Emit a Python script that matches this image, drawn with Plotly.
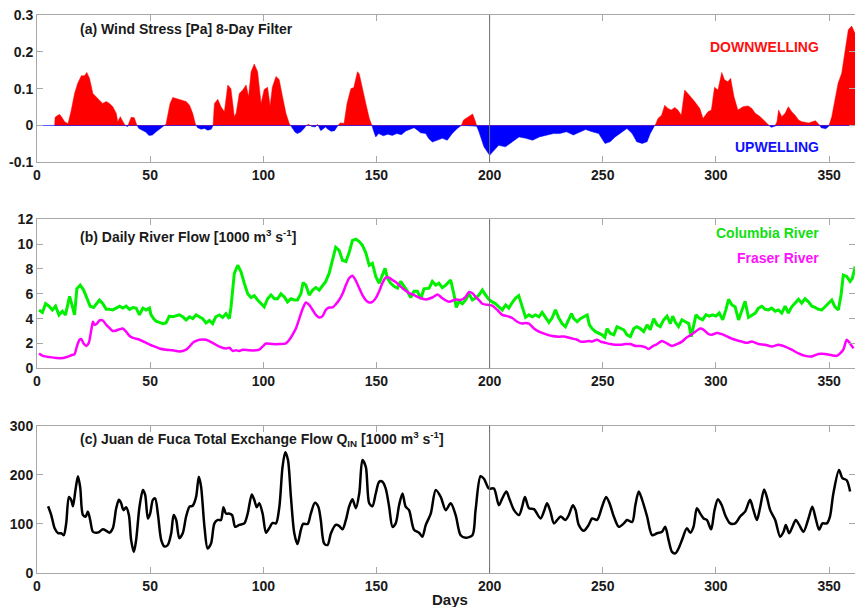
import plotly.graph_objects as go

# ---------------- data ----------------
wind_days = [7.8, 8.0, 9, 10, 11, 12.2, 13.7, 15, 16.6, 18, 19.6, 21, 22, 23.2, 24.7, 26.2, 27.6, 29, 30.6, 32,
             33.5, 35, 35.7, 36.8, 38, 39, 40, 41.6, 43, 44, 45, 46.5, 48, 49.5, 51, 52.5, 54, 55.5, 57, 58.8,
             60, 61.5, 63, 64.4, 65.9, 67.4, 68.8, 70, 71, 72.5, 74, 75.5, 77, 77.8, 78.4, 79.9, 81.3, 82.8, 84.3, 85.7,
             87.2, 88, 89.4, 90.9, 92.4, 93.5, 94.6, 96, 97.5, 99, 100.4, 101.9, 103, 104, 105.6, 107, 108.5, 110, 111.5, 112.6,
             114, 115, 116.5, 118, 119, 120, 121.5, 123, 124, 125.4, 126.5, 127.5, 128.5, 130, 131.5, 133, 134, 135.7, 137, 138.7,
             140, 141.6, 142.4, 143.8, 145.3, 146.8, 148, 149, 149.7, 151, 153, 155, 157, 159, 161, 163, 165, 166.6, 168, 169.5,
             171.8, 173, 174.7, 177, 179.1, 181.3, 183.5, 185.7, 187.5, 188.5, 191, 192.5, 193.5, 194.3, 195.3, 197.5, 200, 202, 204, 207,
             210, 213, 216, 219, 222, 225.3, 228.2, 231, 234, 237, 240, 242.4, 245.3, 248.2, 251, 253.3, 255.5, 258.5, 260.7, 263,
             265, 267.4, 269.6, 271, 272.5, 273.5, 274.4, 276, 277.4, 278.8, 280.3, 281.8, 283.2, 284.7, 286.2, 287.6, 289, 290.6, 292.9, 294.3,
             296.5, 298, 299.4, 300.9, 302.6, 303.8, 305.3, 306.5, 308, 309.7, 312, 314.3, 315.9, 317.4, 319.6, 321.8, 323.5, 324.5, 326, 327,
             327.7, 329.1, 330.6, 332, 333.5, 335, 336.5, 338, 341, 344, 345.5, 346.5, 348.5, 349.9, 351.2, 352.6, 354, 355.6, 357, 358.5,
             360, 361.5]
wind_stress = [0.0, 0.022, 0.027, 0.03, 0.022, 0.01, 0.005, 0.037, 0.087, 0.115, 0.135, 0.135, 0.144, 0.128, 0.087, 0.078, 0.07, 0.06, 0.065, 0.06,
               0.051, 0.033, 0.01, 0.024, 0.01, 0.0, -0.003, 0.022, 0.021, 0.003, -0.008, -0.012, -0.018, -0.027, -0.026, -0.018, -0.01, -0.003, 0.003, 0.06,
               0.076, 0.073, 0.071, 0.069, 0.065, 0.055, 0.033, 0.004, -0.006, -0.01, -0.008, -0.013, -0.01, 0.0, 0.06, 0.071, 0.051, 0.037, 0.11, 0.1,
               0.024, 0.033, 0.087, 0.096, 0.11, 0.078, 0.146, 0.167, 0.146, 0.06, 0.098, 0.104, 0.053, 0.104, 0.133, 0.125, 0.078, 0.033, 0.005, -0.005,
               -0.018, -0.022, -0.018, -0.008, 0.0, 0.003, -0.003, -0.004, 0.003, -0.014, -0.008, -0.004, -0.01, -0.016, -0.014, 0.0, 0.007, 0.006, 0.06, 0.1,
               0.103, 0.146, 0.14, 0.105, 0.06, 0.02, 0.0, -0.02, -0.031, -0.022, -0.028, -0.024, -0.027, -0.022, -0.025, -0.015, -0.01, -0.006, -0.012, -0.02,
               -0.022, -0.035, -0.045, -0.04, -0.035, -0.04, -0.022, -0.008, 0.0, 0.015, 0.025, 0.031, 0.015, -0.002, -0.017, -0.058, -0.081, -0.067, -0.054, -0.058,
               -0.044, -0.031, -0.035, -0.04, -0.031, -0.026, -0.022, -0.022, -0.017, -0.026, -0.017, -0.011, -0.017, -0.022, -0.049, -0.044, -0.031, -0.017, -0.008, -0.022,
               -0.044, -0.049, -0.044, -0.022, -0.004, 0.005, 0.019, 0.028, 0.055, 0.046, 0.042, 0.049, 0.042, 0.028, 0.096, 0.087, 0.078, 0.065, 0.046, 0.019,
               0.037, 0.042, 0.104, 0.096, 0.144, 0.124, 0.119, 0.128, 0.078, 0.042, 0.051, 0.053, 0.046, 0.033, 0.024, 0.01, 0.0, -0.005, -0.002, 0.01,
               0.042, 0.024, 0.033, 0.051, 0.037, 0.028, 0.015, 0.01, 0.007, 0.013, 0.005, -0.006, -0.009, -0.002, 0.024, 0.069, 0.115, 0.142, 0.205, 0.26,
               0.27, 0.25]

columbia_days = [0.9, 2.4, 3.8, 5.3, 6.8, 8.2, 9.7, 11.2, 12.6, 14.4, 15.6, 16.6, 17.6, 19.1, 20.6, 22, 23.5, 25, 26.2, 27.6,
                 29.1, 30.6, 32, 33.5, 35, 36.5, 38, 39.4, 40.9, 42.4, 43.8, 45.3, 46.8, 48.2, 49.7, 50.4, 51.5, 52.6, 54.1, 55.6,
                 57, 58.5, 60, 61.5, 62.9, 64.4, 65.9, 67.4, 68.8, 70.3, 71.8, 73.2, 74.7, 76.2, 77.6, 79, 80.6, 82, 83.5, 85,
                 85.7, 87.2, 88.7, 90.1, 91.6, 93.1, 94.6, 96, 97.5, 99, 100.4, 101.9, 103.4, 104.9, 106.3, 107.8, 109.3, 110.7, 112.2, 113.7,
                 115.1, 116.6, 117.6, 118.8, 120.3, 121.8, 123.2, 124.7, 126.2, 127.6, 129.1, 130.6, 132, 133.5, 135, 136.5, 137.9, 139.4, 140.9, 142.4,
                 143.8, 145.3, 146.8, 148.2, 149.7, 151.2, 152.6, 153.8, 154.9, 156.3, 157.8, 159.3, 160.7, 162.2, 163.7, 165.1, 166.6, 168.1, 169.6, 171,
                 172.5, 173.3, 174.7, 176.2, 177.6, 179.1, 180.6, 182.8, 184.3, 185.3, 186.5, 188, 189.4, 190.9, 192.4, 193.8, 195.3, 196.8, 198.2, 199.7,
                 201.2, 202.6, 204.1, 205.6, 207.1, 208.5, 210, 211.5, 212.9, 214.4, 215.9, 217.4, 218.8, 220.3, 221.8, 223.2, 224.7, 226.2, 227.6, 229.1,
                 230.6, 232, 233.5, 235, 236.2, 237.2, 238.7, 240.1, 241.6, 243.1, 244.1, 245.3, 246.8, 248.2, 249.7, 250.9, 251.9, 253.4, 254.9, 256.3,
                 257.8, 259.3, 260.7, 262.2, 263.7, 265.1, 266.6, 268.1, 269.6, 271, 272.5, 274, 275.4, 276.9, 278.4, 279.9, 280.9, 282.1, 283.5, 285,
                 286.5, 288, 289.1, 290.1, 291.2, 292.6, 294.1, 295.6, 297.1, 298.5, 300, 301.5, 303, 304.4, 305.6, 307.1, 308.5, 310, 311.5, 312.9,
                 314.4, 315.9, 317.4, 318.8, 320.3, 321.8, 323.2, 324.7, 326.2, 327.6, 329.1, 330.6, 332, 333.5, 335, 336.5, 337.9, 339.4, 340.9, 342.4,
                 343.8, 345.3, 346.8, 348.2, 349.7, 351.2, 352.6, 354.1, 355.3, 356.3, 357.8, 359.3, 360.3, 361.5]
columbia_flow = [4.7, 4.5, 5.2, 5.0, 4.7, 5.0, 4.3, 4.6, 4.3, 5.8, 5.0, 4.3, 6.4, 6.7, 6.3, 5.6, 5.0, 4.9, 5.2, 5.5,
                 5.2, 4.75, 4.75, 4.7, 4.85, 5.0, 4.85, 5.0, 4.75, 4.9, 4.85, 4.3, 4.85, 4.7, 4.85, 4.3, 4.0, 3.8, 3.7, 3.6,
                 3.65, 4.2, 4.15, 4.2, 4.3, 4.15, 3.9, 4.15, 4.0, 4.3, 4.15, 4.0, 3.65, 3.85, 3.6, 4.15, 4.3, 4.1, 4.4, 4.0,
                 4.9, 7.65, 8.3, 7.8, 6.85, 6.0, 5.7, 5.85, 5.5, 5.2, 4.95, 5.6, 5.9, 5.6, 5.6, 6.0, 5.75, 5.35, 5.6, 5.5,
                 5.5, 6.0, 6.9, 6.7, 5.9, 6.3, 6.5, 6.3, 6.7, 7.0, 7.65, 8.7, 9.75, 9.5, 8.7, 8.6, 9.3, 10.3, 10.4, 10.2,
                 9.9, 9.3, 8.3, 8.45, 7.4, 6.85, 7.5, 8.05, 7.25, 6.85, 6.6, 6.45, 7.0, 6.6, 6.2, 5.7, 6.2, 6.2, 5.6, 6.4,
                 6.4, 6.45, 7.0, 6.7, 6.85, 6.5, 6.7, 7.1, 5.9, 4.9, 5.4, 5.2, 5.5, 6.0, 5.5, 5.65, 5.9, 6.3, 5.9, 5.55,
                 5.35, 5.2, 4.95, 4.7, 5.1, 4.85, 5.3, 5.65, 5.85, 5.0, 4.1, 4.3, 4.15, 4.3, 4.15, 4.5, 4.05, 3.7, 4.05, 4.7,
                 4.05, 3.6, 3.35, 3.9, 4.4, 4.0, 3.75, 4.0, 4.15, 4.3, 3.5, 3.2, 2.95, 2.8, 2.7, 2.5, 3.2, 2.8, 2.7, 3.35,
                 3.2, 3.1, 2.7, 2.55, 3.2, 3.35, 3.2, 2.95, 3.5, 3.1, 4.0, 3.5, 3.35, 3.9, 4.2, 3.6, 4.2, 3.7, 3.35, 3.9,
                 3.75, 3.6, 2.55, 3.4, 4.3, 4.05, 3.9, 4.3, 4.2, 4.3, 4.2, 4.45, 3.9, 4.7, 5.55, 5.1, 4.95, 3.9, 4.7, 5.4,
                 4.1, 4.3, 4.45, 4.85, 5.0, 4.75, 4.7, 4.85, 4.6, 4.7, 4.45, 5.0, 4.45, 4.95, 5.25, 5.55, 5.25, 5.6, 5.35, 5.0,
                 4.9, 4.75, 4.7, 4.95, 5.2, 5.5, 4.95, 4.7, 5.9, 7.5, 7.4, 7.0, 7.25, 8.2]

fraser_days = [0.9, 2.6, 5.6, 8.5, 11.5, 13.7, 15.1, 16.6, 17.6, 18.8, 19.6, 20.6, 21.8, 22.9, 24, 24.7, 25.4, 26.5, 27.6, 29.1,
               30.6, 32, 33.5, 35, 36.5, 37.9, 39.4, 40.9, 42.4, 45.3, 48.2, 51.2, 54.1, 57, 60, 62.9, 65.9, 67.4, 68.8, 70.3,
               71.8, 74.7, 77.6, 80.6, 83.5, 85, 86.5, 87.9, 89.4, 90.9, 93.8, 96.8, 98.2, 99.7, 101.2, 104.1, 107.1, 110, 111.5, 112.9,
               114.4, 115.9, 117.4, 118.8, 120.3, 121.8, 123.2, 124.7, 126.2, 127.6, 129.1, 130.6, 132, 133.5, 135, 136.5, 137.9, 139.4, 140.9, 142.4,
               143.8, 145.3, 146.8, 148.2, 149.7, 151.2, 152.6, 154.1, 155.6, 157.1, 158.5, 160, 161.5, 162.9, 164.4, 166.6, 168.8, 171.8, 174.7, 177,
               179.1, 182.1, 185, 187.2, 189.4, 190.9, 192.4, 193.8, 195.3, 196.8, 199.7, 201.2, 203.4, 205.6, 207.8, 210, 212.2, 214.4, 215.9, 217.4,
               219.6, 221.8, 224.7, 227.6, 230.6, 233.5, 236.5, 238.7, 240.1, 242.4, 243.9, 245.3, 247.5, 249, 251.2, 253.4, 255.6, 257.8, 260, 262.2,
               264.4, 266.6, 268.8, 270.3, 271.8, 274, 276.2, 278.4, 280.6, 282.8, 285, 287.2, 289.1, 290.9, 293.1, 294.6, 296.8, 298.2, 300.4, 302.6,
               305.6, 308.5, 311.5, 313.7, 315.9, 318.8, 321.8, 324.7, 327.6, 330.6, 333.5, 336.5, 339.4, 342.4, 345.3, 348.2, 351.2, 353.4, 354.9, 356.3,
               357.8, 359.3, 360.8]
fraser_flow = [1.2, 1.0, 0.9, 0.83, 0.83, 0.94, 1.05, 1.15, 1.75, 2.3, 2.35, 2.0, 1.8, 2.05, 3.1, 3.75, 3.5, 3.6, 3.85, 3.85,
               3.5, 3.25, 3.0, 3.05, 3.15, 3.2, 2.95, 2.6, 2.45, 2.3, 2.05, 1.8, 1.6, 1.5, 1.45, 1.35, 1.5, 1.75, 2.05, 2.2,
               2.3, 2.3, 2.05, 1.75, 1.6, 1.65, 1.4, 1.45, 1.4, 1.5, 1.45, 1.45, 1.5, 1.75, 2.0, 1.95, 1.95, 2.0, 2.3, 2.7,
               3.2, 4.0, 4.8, 5.3, 5.1, 4.7, 4.3, 4.1, 4.2, 4.7, 4.9, 4.9, 5.15, 5.5, 6.0, 6.7, 7.25, 7.45, 7.05, 6.45,
               5.9, 5.5, 5.3, 5.35, 5.65, 6.2, 6.85, 7.3, 7.3, 7.1, 6.95, 6.7, 6.45, 6.25, 6.05, 5.9, 5.7, 5.55, 5.7, 5.95,
               5.65, 5.35, 5.55, 5.5, 5.75, 6.15, 6.05, 5.75, 5.5, 5.2, 5.1, 5.05, 4.7, 4.3, 4.2, 4.05, 3.75, 3.6, 3.65, 3.6,
               3.2, 2.95, 2.75, 2.6, 2.55, 2.55, 2.4, 2.3, 2.15, 2.15, 2.2, 2.15, 2.3, 2.15, 2.05, 1.95, 1.9, 1.9, 1.95, 1.95,
               1.8, 1.8, 1.7, 1.55, 1.75, 1.95, 2.2, 2.0, 1.8, 1.95, 2.15, 2.5, 2.7, 2.95, 3.2, 3.1, 2.75, 2.7, 2.85, 2.75,
               2.5, 2.3, 2.15, 2.05, 2.15, 1.95, 1.9, 1.75, 1.9, 1.75, 1.5, 1.2, 1.0, 0.95, 1.15, 1.15, 1.05, 1.0, 1.2, 1.5,
               2.3, 2.0, 1.6]

exchange_days = [4.9, 6.3, 7.8, 9.3, 10.7, 11.8, 12.9, 14.1, 15.1, 15.9, 17, 18.1, 19.1, 20.3, 21.5, 22.5, 23.5, 24.7, 26.2, 27.6,
                 29.1, 30.6, 32, 33.5, 35, 36.2, 37.2, 38.2, 39.4, 40.6, 41.6, 42.8, 43.8, 45.3, 46.8, 47.8, 49, 50, 51.2, 52.2,
                 53.4, 54.9, 56.3, 57.8, 59.3, 60.4, 61.5, 62.9, 64.4, 65.9, 67.4, 68.8, 70.3, 71.5, 72.5, 74, 75.4, 76.9, 78.4, 79.9,
                 81.3, 82.4, 83.5, 84.7, 86.2, 87.6, 89.4, 91.6, 93.1, 94.9, 96, 97.1, 98.2, 99.7, 101.2, 102.6, 104.1, 105.6, 107.1, 108.5,
                 109.7, 110.9, 112.2, 113.7, 115.1, 116.6, 117.6, 119.6, 121, 122.8, 124.3, 125.4, 126.9, 128.4, 129.9, 132, 133.5, 135, 136.5, 137.9,
                 139.4, 140.9, 142.4, 143.8, 145.3, 146.8, 148.2, 149.7, 151.2, 152.6, 154.1, 155.6, 157.1, 158.5, 160, 161.5, 162.9, 164.4, 166.6, 168.8,
                 170.3, 171.8, 174, 176.2, 178.4, 180.6, 182.8, 185, 187.2, 189.4, 192.4, 193.8, 196, 197.5, 199.7, 201.9, 204.1, 205.6, 207.4, 208.9,
                 210.8, 213, 214.4, 215.6, 217.4, 219.6, 222.5, 224, 225.4, 226.9, 228.4, 229.9, 231.4, 233.5, 235, 236.8, 238, 239.4, 241.6, 243.8,
                 245.3, 247.5, 249.7, 251.5, 253, 254.9, 257.1, 259.3, 260.7, 263, 264.4, 265.9, 267.4, 269.6, 271.8, 274, 276.2, 277.6, 279.1, 280.6,
                 282.1, 283.5, 285, 287.2, 288.7, 290.1, 291.6, 293.1, 294.6, 296, 297.9, 299.4, 300.9, 302.6, 304.1, 306.3, 308.5, 310.7, 312.9, 315.1,
                 316.6, 318.1, 319.6, 321.3, 322.5, 324, 326.2, 328.4, 329.9, 330.9, 332.4, 333.8, 335.3, 336.8, 338.7, 340.9, 342.6, 344.1, 345.6, 347.1,
                 349, 350.4, 351.9, 354.4, 355.9, 357.8, 359.3]
exchange_flow = [136, 118, 91, 81, 81, 77, 101, 155, 149, 136, 169, 197, 174, 118, 115, 125, 108, 84, 82, 84,
                 89, 86, 82, 91, 132, 149, 142, 128, 134, 118, 67, 43, 67, 135, 169, 159, 111, 121, 149, 152,
                 121, 67, 54, 57, 81, 118, 108, 71, 81, 115, 135, 137, 155, 196, 176, 94, 50, 60, 101, 108,
                 108, 134, 121, 121, 118, 94, 98, 101, 121, 160, 149, 134, 142, 121, 82, 91, 102, 101, 135, 216,
                 246, 230, 155, 81, 59, 88, 100, 100, 121, 143, 135, 108, 60, 57, 81, 98, 96, 89, 108, 135,
                 150, 132, 162, 230, 216, 142, 136, 162, 186, 186, 172, 135, 94, 101, 138, 162, 135, 128, 88, 82,
                 74, 98, 121, 169, 155, 128, 142, 118, 77, 72, 77, 128, 197, 192, 172, 172, 138, 152, 166, 149,
                 128, 118, 135, 155, 132, 130, 111, 125, 142, 125, 101, 108, 115, 108, 118, 138, 128, 98, 86, 98,
                 111, 108, 135, 155, 142, 115, 94, 101, 108, 104, 138, 166, 149, 115, 77, 81, 84, 94, 67, 43,
                 40, 50, 67, 91, 82, 94, 132, 121, 111, 108, 89, 128, 150, 138, 118, 101, 101, 115, 125, 149,
                 128, 108, 135, 170, 155, 128, 108, 74, 84, 98, 81, 94, 108, 98, 84, 111, 135, 111, 88, 101,
                 101, 115, 162, 210, 193, 189, 166]

x_ticks = [0, 50, 100, 150, 200, 250, 300, 350]
wind_ticks = [-0.1, 0, 0.1, 0.2, 0.3]
wind_tick_labels = ["-0.1", "0", "0.1", "0.2", "0.3"]
river_ticks = [0, 2, 4, 6, 8, 10, 12]
exchange_ticks = [0, 100, 200, 300]

# ------------- split wind series into positive / negative parts -------------
def split_sign(xs, ys):
    px, py = [xs[0]], [ys[0]]
    for i in range(1, len(xs)):
        y0, y1 = ys[i - 1], ys[i]
        if y0 * y1 < 0:
            xc = xs[i - 1] + (0 - y0) * (xs[i] - xs[i - 1]) / (y1 - y0)
            px.append(xc)
            py.append(0.0)
        px.append(xs[i])
        py.append(ys[i])
    pos = [max(v, 0.0) for v in py]
    neg = [min(v, 0.0) for v in py]
    return px, pos, neg

wx, wpos, wneg = split_sign(wind_days, wind_stress)

FONT = "Liberation Sans"
W, H = 855, 607
ML = 37
XMAX = (W - ML) / 2.263

fig = go.Figure()
fig.add_trace(go.Scatter(x=wx, y=wpos, mode="lines", fill="tozeroy", fillcolor="#ff0000",
                         line=dict(color="#ff0000", width=0.5), xaxis="x", yaxis="y", showlegend=False))
fig.add_trace(go.Scatter(x=wx, y=wneg, mode="lines", fill="tozeroy", fillcolor="#0000ff",
                         line=dict(color="#0000ff", width=0.5), xaxis="x", yaxis="y", showlegend=False))
fig.add_trace(go.Scatter(x=columbia_days, y=columbia_flow, mode="lines",
                         line=dict(color="#00f000", width=3), xaxis="x2", yaxis="y2", showlegend=False))
fig.add_trace(go.Scatter(x=fraser_days, y=fraser_flow, mode="lines",
                         line=dict(color="#ff00ff", width=2.5, shape="spline", smoothing=0.6),
                         xaxis="x2", yaxis="y2", showlegend=False))
fig.add_trace(go.Scatter(x=exchange_days, y=exchange_flow, mode="lines",
                         line=dict(color="#000000", width=2.5, shape="spline", smoothing=0.8),
                         xaxis="x3", yaxis="y3", showlegend=False))

AXC = "#a8a8a8"
tickfont = dict(family=FONT, size=14, color="#1a1a1a", weight="bold")

def xax(anchor):
    return dict(range=[0, XMAX], tickvals=x_ticks, showline=True, linecolor=AXC, linewidth=1,
                mirror="ticks", ticks="inside", ticklen=6, tickcolor=AXC, showgrid=False,
                zeroline=False, tickfont=tickfont, anchor=anchor, domain=[0, 1], automargin=False)

def yax(anchor, dom, rng, tv, tt=None, zl=False):
    d = dict(range=rng, tickvals=tv, showline=True, linecolor=AXC, linewidth=1, mirror="ticks",
             ticks="inside", ticklen=6, tickcolor=AXC, showgrid=False, tickfont=tickfont,
             anchor=anchor, domain=dom, automargin=False, zeroline=zl)
    if tt is not None:
        d["ticktext"] = tt
    if zl:
        d["zerolinecolor"] = "#5a5aff"
        d["zerolinewidth"] = 1
    return d

def ydom(top_px, bot_px):
    return [1 - bot_px / H, 1 - top_px / H]

fig.update_layout(
    width=W, height=H,
    margin=dict(l=ML, r=0, t=0, b=0),
    paper_bgcolor="white", plot_bgcolor="white",
    font=dict(family=FONT, size=14, color="#1a1a1a"),
    hovermode=False,
    xaxis=xax("y"), xaxis2=xax("y2"), xaxis3=xax("y3"),
    yaxis=yax("x", ydom(15, 162.3), [-0.1, 0.3], wind_ticks, wind_tick_labels, zl=True),
    yaxis2=yax("x2", ydom(219.3, 368.3), [0, 12], river_ticks),
    yaxis3=yax("x3", ydom(425.7, 573), [0, 300], exchange_ticks),
)

# vertical marker at day 200
for xr, yr in [("x", "y domain"), ("x2", "y2 domain"), ("x3", "y3 domain")]:
    fig.add_shape(type="line", xref=xr, yref=yr, x0=200, x1=200, y0=0, y1=1,
                  line=dict(color="#707070", width=1))

bold = dict(family=FONT, size=14, color="#1a1a1a", weight="bold")
ann = [
    dict(x=18, y=0.262, xref="x", yref="y", text="(a) Wind Stress [Pa] 8-Day Filter", xanchor="left", font=bold),
    dict(x=18, y=10.66, xref="x2", yref="y2", text="(b) Daily River Flow [1000 m<sup>3</sup> s<sup>-1</sup>]",
         xanchor="left", font=bold),
    dict(x=18, y=272, xref="x3", yref="y3",
         text="(c) Juan de Fuca Total Exchange Flow Q<sub>IN</sub> [1000 m<sup>3</sup> s<sup>-1</sup>]",
         xanchor="left", font=bold),
    dict(x=346.6, y=0.213, xref="x", yref="y", text="DOWNWELLING", xanchor="right",
         font=dict(family=FONT, size=14, color="#ff1010", weight="bold")),
    dict(x=346.6, y=-0.059, xref="x", yref="y", text="UPWELLING", xanchor="right",
         font=dict(family=FONT, size=14, color="#1010ff", weight="bold")),
    dict(x=346.6, y=10.9, xref="x2", yref="y2", text="Columbia River", xanchor="right",
         font=dict(family=FONT, size=14, color="#10e010", weight="bold")),
    dict(x=346.6, y=8.9, xref="x2", yref="y2", text="Fraser River", xanchor="right",
         font=dict(family=FONT, size=14, color="#ff10ff", weight="bold")),
    dict(x=(450 - ML) / (W - ML), y=1 - 599 / H, xref="paper", yref="paper", text="Days",
         xanchor="center", yanchor="middle", font=dict(family=FONT, size=15, color="#1a1a1a", weight="bold")),
]
for a in ann:
    a.setdefault("showarrow", False)
    a.setdefault("yanchor", "middle")
    fig.add_annotation(**a)

fig.write_html("out.html", config={"displayModeBar": False, "staticPlot": True},
               post_script="document.body.style.margin='0px';document.body.style.overflow='hidden';")
